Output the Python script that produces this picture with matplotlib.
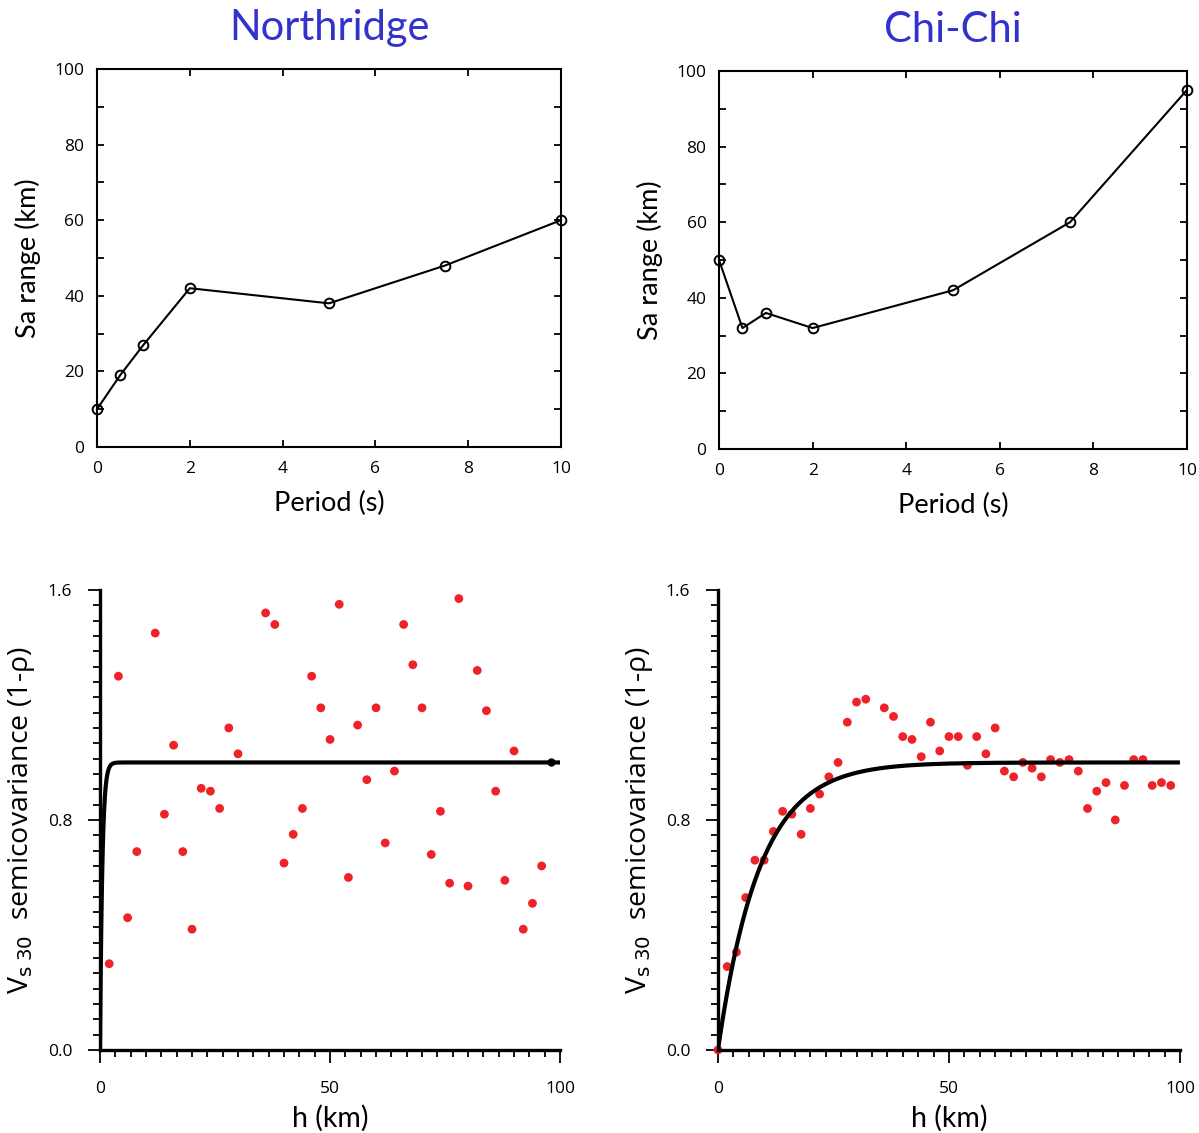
import numpy as np
import matplotlib
matplotlib.use("Agg")
import matplotlib.pyplot as plt
from matplotlib.ticker import MultipleLocator

plt.rcParams['font.family'] = ['Lato', 'DejaVu Sans']

# data
titles = ['Northridge', 'Chi-Chi']

period = [0, 0.5, 1, 2, 5, 7.5, 10]
northridge_range = [10, 19, 27, 42, 38, 48, 60]
chichi_range = [50, 32, 36, 32, 42, 60, 95]

# Northridge semivariogram points
nr_h = [2, 4, 6, 8, 12, 14, 16, 18, 20, 22, 24, 26, 28, 30, 36, 38, 40, 42, 44, 46,
        48, 50, 52, 54, 56, 58, 60, 62, 64, 66, 68, 70, 72, 74, 76, 78, 80, 82, 84,
        86, 88, 90, 92, 94, 96]
nr_gamma = [0.30, 1.30, 0.46, 0.69, 1.45, 0.82, 1.06, 0.69, 0.42, 0.91, 0.90, 0.84,
            1.12, 1.03, 1.52, 1.48, 0.65, 0.75, 0.84, 1.30, 1.19, 1.08, 1.55, 0.60,
            1.13, 0.94, 1.19, 0.72, 0.97, 1.48, 1.34, 1.19, 0.68, 0.83, 0.58, 1.57,
            0.57, 1.32, 1.18, 0.90, 0.59, 1.04, 0.42, 0.51, 0.64]

# Chi-Chi semivariogram points
cc_h = [0, 2, 4, 6, 8, 10, 12, 14, 16, 18, 20, 22, 24, 26, 28, 30, 32, 36, 38, 40,
        42, 44, 46, 48, 50, 52, 54, 56, 58, 60, 62, 64, 66, 68, 70, 72, 74, 76, 78,
        80, 82, 84, 86, 88, 90, 92, 94, 96, 98]
cc_gamma = [0.0, 0.29, 0.34, 0.53, 0.66, 0.66, 0.76, 0.83, 0.82, 0.75, 0.84, 0.89,
            0.95, 1.00, 1.14, 1.21, 1.22, 1.19, 1.16, 1.09, 1.08, 1.02, 1.14, 1.04,
            1.09, 1.09, 0.99, 1.09, 1.03, 1.12, 0.97, 0.95, 1.00, 0.98, 0.95, 1.01,
            1.00, 1.01, 0.97, 0.84, 0.90, 0.93, 0.80, 0.92, 1.01, 1.01, 0.92, 0.93,
            0.92]

# fitted exponential models: sill, practical range (km)
nr_sill, nr_range = 1.0, 1.5
cc_sill, cc_range = 1.0, 27.0

title_color = '#3333cc'
red = '#ee2229'

fig = plt.figure(figsize=(11.99, 11.33), dpi=100)

ax_tl = fig.add_axes([0.0809, 0.6055, 0.387, 0.3336])
ax_tr = fig.add_axes([0.5997, 0.6037, 0.3903, 0.3336])
ax_bl = fig.add_axes([0.0834, 0.0733, 0.3837, 0.406])
ax_br = fig.add_axes([0.5988, 0.0733, 0.3853, 0.406])


def top_panel(ax, y, title):
    ax.plot(period, y, '-o', color='black', lw=1.5, ms=7, mfc='none', mew=1.4,
            clip_on=False, zorder=3)
    ax.set_xlim(0, 10)
    ax.set_ylim(0, 100)
    ax.xaxis.set_major_locator(MultipleLocator(2))
    ax.yaxis.set_major_locator(MultipleLocator(20))
    ax.yaxis.set_minor_locator(MultipleLocator(10))
    ax.tick_params(which='both', direction='in', top=True, right=True,
                   width=1.3, length=5, labelsize=12.5)
    ax.tick_params(axis='x', which='both', pad=10)
    ax.tick_params(axis='y', which='both', pad=9)
    for lab in ax.get_xticklabels() + ax.get_yticklabels():
        lab.set_family(['Open Sans', 'DejaVu Sans'])
    for s in ax.spines.values():
        s.set_linewidth(1.5)
    ax.set_xlabel('Period (s)', fontsize=19.5, labelpad=10)
    ax.set_ylabel('Sa range (km)', fontsize=19.5, labelpad=10)
    ax.set_title(title, color=title_color, fontsize=30, pad=21)


def bottom_panel(ax, h, g, sill, rng):
    hh = np.linspace(0, 100, 2000)
    model = sill * (1 - np.exp(-3 * hh / rng))
    ax.scatter(h, g, s=40, color=red, edgecolors='none', zorder=2, clip_on=False)
    ax.plot(hh, model, color='black', lw=3, zorder=3, solid_capstyle='butt')
    ax.set_xlim(0, 100)
    ax.set_ylim(0, 1.6)
    ax.spines['top'].set_visible(False)
    ax.spines['right'].set_visible(False)
    ax.spines['left'].set_linewidth(2.4)
    ax.spines['bottom'].set_linewidth(2.4)
    ax.set_xticks([0, 50, 100])
    ax.set_yticks([0, 0.8, 1.6])
    ax.set_yticklabels(['0.0', '0.8', '1.6'])
    ax.xaxis.set_minor_locator(MultipleLocator(100 / 30))
    ax.yaxis.set_minor_locator(MultipleLocator(1.6 / 30))
    ax.tick_params(which='major', direction='out', length=9, width=1.3,
                   labelsize=12.5)
    ax.tick_params(axis='x', which='major', pad=13)
    ax.tick_params(axis='y', which='major', pad=11)
    ax.tick_params(which='minor', direction='out', length=5, width=1.3)
    for lab in ax.get_xticklabels() + ax.get_yticklabels():
        lab.set_family(['Open Sans', 'DejaVu Sans'])
    ax.set_xlabel('h (km)', fontsize=20.5, labelpad=6)
    ax.set_ylabel(r'V$_{\mathrm{s}\;30}$  semicovariance (1-ρ)', fontsize=20.5,
                  labelpad=8, family=['Open Sans', 'DejaVu Sans'])


top_panel(ax_tl, northridge_range, titles[0])
top_panel(ax_tr, chichi_range, titles[1])

bottom_panel(ax_bl, nr_h, nr_gamma, nr_sill, nr_range)
ax_bl.plot([98], [nr_sill], 'o', color='black', ms=5, zorder=4)
bottom_panel(ax_br, cc_h, cc_gamma, cc_sill, cc_range)

fig.savefig('out.png', dpi=100)
